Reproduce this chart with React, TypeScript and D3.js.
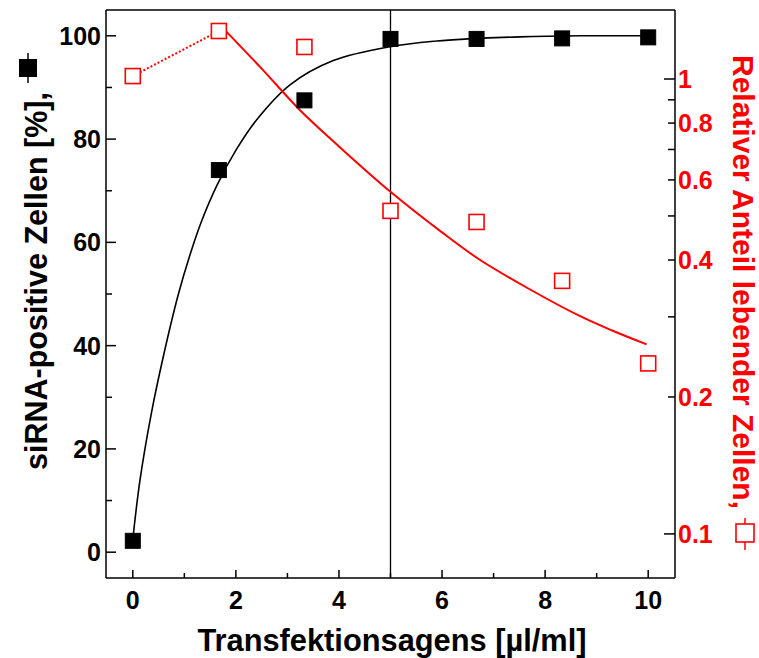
import React from 'react';
import * as d3 from 'd3';

// measured points: dose of transfection agent (µl/ml)
const doses = [0, 1.67, 3.33, 5, 6.67, 8.33, 10];
const positiveCells = [2.2, 74, 87.5, 99.4, 99.4, 99.5, 99.7];
const relViability = [1.015, 1.275, 1.176, 0.513, 0.485, 0.36, 0.237];

// fitted curves
const posFitX = [0, 0.14, 0.36, 0.59, 0.88, 1.11, 1.33, 1.63, 2.01, 2.4, 3.05, 3.89, 5.0, 5.9, 6.5, 7.5, 8.7, 10];
const posFitY = [2.5, 14, 26.9, 37.8, 49.8, 57.6, 64.0, 71.0, 78.0, 83.7, 90.5, 95.2, 97.9, 99.0, 99.4, 99.8, 100, 100];
const vitFitX = [1.75, 2.5, 3.24, 4.0, 5.0, 6.0, 6.74, 7.7, 8.68, 9.3, 9.97];
const vitFitY = [1.294, 1.054, 0.855, 0.711, 0.565, 0.46, 0.4, 0.345, 0.301, 0.28, 0.261];

const xTicks = [0, 2, 4, 6, 8, 10];
const xMinor = [1, 3, 5, 7, 9];
const yLeftTicks = [0, 20, 40, 60, 80, 100];
const yLeftMinor = [10, 30, 50, 70, 90];
const yRightTicks = [1, 0.8, 0.6, 0.4, 0.2, 0.1];
const yRightMinor = [0.9, 0.7, 0.5, 0.3];
const markerLine = 5;

const W = 759;
const H = 658;
const L = 106, R = 675, T = 10, B = 578;
const font = '"Liberation Sans", Arial, sans-serif';

export default function App() {
  const x = d3.scaleLinear().domain([-0.52, 10.52]).range([L, R]);
  const yL = d3.scaleLinear().domain([-5, 105]).range([B, T]);
  const yR = d3.scaleLog().domain([0.08, 1.418]).range([B, T]);

  const posLine = d3.line<number>()
    .x((d, i) => x(posFitX[i]))
    .y(d => yL(d))
    .curve(d3.curveCatmullRom.alpha(0.5));
  const vitLine = d3.line<number>()
    .x((d, i) => x(vitFitX[i]))
    .y(d => yR(d))
    .curve(d3.curveCatmullRom.alpha(0.5));

  const s = 15;

  return (
    <svg width={W} height={H} style={{ position: 'absolute', left: 0, top: 0, background: '#fff' }}
      fontFamily={font} fontWeight="bold">
      {/* frame */}
      <g stroke="#000" strokeWidth={1.5} fill="none">
        <line x1={L} x2={R} y1={T} y2={T} />
        <line x1={L} x2={R} y1={B} y2={B} />
        <line x1={L} x2={L} y1={T} y2={B} />
        <line x1={R} x2={R} y1={T} y2={B} />
      </g>
      <line x1={x(markerLine)} x2={x(markerLine)} y1={T} y2={B} stroke="#000" strokeWidth={1.3} />

      {/* bottom axis */}
      <g stroke="#000" strokeWidth={1.5}>
        {xTicks.map(t => <line key={t} x1={x(t)} x2={x(t)} y1={B} y2={B - 8} />)}
        {xMinor.map(t => <line key={t} x1={x(t)} x2={x(t)} y1={B} y2={B - 5} />)}
      </g>
      {xTicks.map(t => (
        <text key={t} x={x(t)} y={609} textAnchor="middle" fontSize={25}>{t}</text>
      ))}

      {/* left axis */}
      <g stroke="#000" strokeWidth={1.5}>
        {yLeftTicks.map(t => <line key={t} x1={L} x2={L + 10} y1={yL(t)} y2={yL(t)} />)}
        {yLeftMinor.map(t => <line key={t} x1={L} x2={L + 6} y1={yL(t)} y2={yL(t)} />)}
      </g>
      {yLeftTicks.map(t => (
        <text key={t} x={101} y={yL(t) + 9} textAnchor="end" fontSize={25}>{t}</text>
      ))}

      {/* right axis (log) */}
      <g stroke="#000" strokeWidth={1.5}>
        {yRightTicks.map(t => <line key={t} x1={R} x2={R - (t === 1 || t === 0.1 ? 11 : 7)} y1={yR(t)} y2={yR(t)} />)}
        {yRightMinor.map(t => <line key={t} x1={R} x2={R - 7} y1={yR(t)} y2={yR(t)} />)}
      </g>
      {yRightTicks.map(t => (
        <text key={t} x={678} y={yR(t) + 9} fontSize={25} fill="#ff0000">{t}</text>
      ))}

      {/* curves */}
      <path d={posLine(posFitY) || ''} fill="none" stroke="#000" strokeWidth={1.6} />
      <path d={vitLine(vitFitY) || ''} fill="none" stroke="#ff0000" strokeWidth={2} />
      <line x1={x(doses[0])} y1={yR(relViability[0])} x2={x(doses[1])} y2={yR(relViability[1])}
        stroke="#ff0000" strokeWidth={2} strokeDasharray="2,2" />

      {/* markers */}
      {doses.map((d, i) => (
        <rect key={'r' + i} x={x(d) - s / 2} y={yR(relViability[i]) - s / 2} width={s} height={s}
          fill="#fff" stroke="#ff0000" strokeWidth={1.6} />
      ))}
      {doses.map((d, i) => (
        <rect key={'b' + i} x={x(d) - s / 2} y={yL(positiveCells[i]) - s / 2} width={s} height={s}
          fill="#000" stroke="#000" strokeWidth={1} />
      ))}

      {/* axis titles */}
      <text x={392} y={651} textAnchor="middle" fontSize={30.8}>Transfektionsagens [µl/ml]</text>
      <text transform="translate(47,470) rotate(-90)" fontSize={30.5}>siRNA-positive Zellen [%],</text>
      <line x1={28} x2={28} y1={53} y2={83} stroke="#000" strokeWidth={1.5} />
      <rect x={19} y={59} width={18} height={18} fill="#000" />
      <text transform="translate(733,55) rotate(90)" fontSize={30} fill="#ff0000">Relativer Anteil lebender Zellen,</text>
      <line x1={745} x2={745} y1={518} y2={550} stroke="#ff0000" strokeWidth={1.5} />
      <rect x={736} y={524} width={18} height={18} fill="#fff" stroke="#ff0000" strokeWidth={1.6} />
    </svg>
  );
}
